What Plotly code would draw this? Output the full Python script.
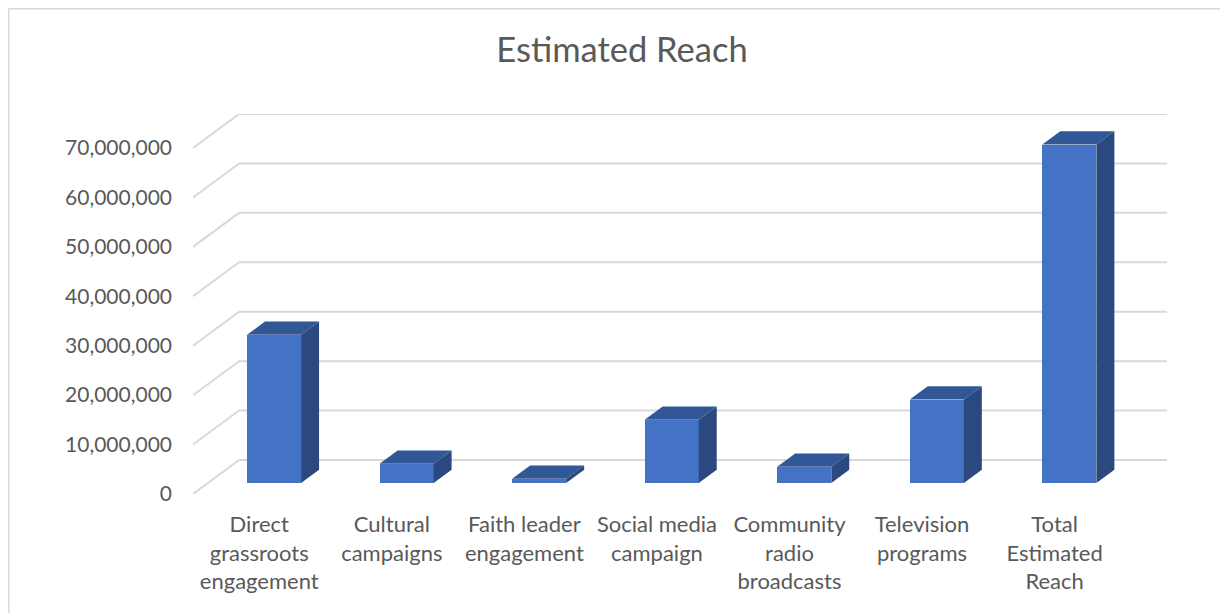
import plotly.graph_objects as go

categories = ["Direct<br>grassroots<br>engagement", "Cultural<br>campaigns", "Faith leader<br>engagement",
              "Social media<br>campaign", "Community<br>radio<br>broadcasts", "Television<br>programs",
              "Total<br>Estimated<br>Reach"]
values = [30000000, 3900000, 900000, 12800000, 3300000, 16900000, 68500000]
y_ticks = [0, 10000000, 20000000, 30000000, 40000000, 50000000, 60000000, 70000000]
y_tick_text = ["0", "10,000,000", "20,000,000", "30,000,000", "40,000,000", "50,000,000", "60,000,000", "70,000,000"]

# oblique 3D projection parameters (full floor depth in data units)
DX = 0.348          # category units
DY = 6880000        # value units
D0, D1 = 0.32, 0.71  # bar depth range (fraction of floor depth)
BW = 0.408          # bar width in category units

FRONT = "#4472C4"
TOP = "#325796"
SIDE = "#2b497f"
GRID = "#d9d9d9"
TXT = "#595959"
FONT = "Lato, 'Open Sans', sans-serif"

n = len(categories)
xmin, xmax = -0.5, n - 0.5
fig = go.Figure()

shapes = []
# gridlines: diagonal on the left wall then along the back wall (drawn below the bars)
for v in y_ticks:
    shapes.append(dict(type="path", xref="x", yref="y", layer="below",
                       path=f"M {xmin},{v} L {xmin + DX},{v + DY} L {xmax + DX},{v + DY}",
                       line=dict(color=GRID, width=2)))

# front faces
xf = [i + DX * D0 for i in range(n)]
fig.add_trace(go.Bar(x=xf, y=values, base=[DY * D0] * n, width=BW,
                     marker=dict(color=FRONT, line=dict(width=0)), showlegend=False))

ddx = DX * (D1 - D0)
ddy = DY * (D1 - D0)
for i, v in enumerate(values):
    xl = xf[i] - BW / 2
    xr = xf[i] + BW / 2
    b = DY * D0
    t = b + v
    # top face
    fig.add_trace(go.Scatter(x=[xl, xr, xr + ddx, xl + ddx, xl], y=[t, t, t + ddy, t + ddy, t],
                             fill="toself", fillcolor=TOP, mode="lines", line=dict(width=0, color=TOP),
                             hoverinfo="skip", showlegend=False))
    # side face
    fig.add_trace(go.Scatter(x=[xr, xr, xr + ddx, xr + ddx, xr], y=[b, t, t + ddy, b + ddy, b],
                             fill="toself", fillcolor=SIDE, mode="lines", line=dict(width=0, color=SIDE),
                             hoverinfo="skip", showlegend=False))

# page body has an 8px margin: lay out in a 1220x605 figure
W, H = 1220, 605
L, T = 185, 106
R = W - 1159
B = H - 486
pw = W - L - R
ph = H - T - B

# chart border: only the left and top edges fall inside the window
shapes.append(dict(type="line", xref="paper", yref="paper", layer="below",
                   x0=(0.5 - L) / pw, x1=(0.5 - L) / pw, y0=-(H + 10 - (H - B)) / ph, y1=1 + (T - 0.5) / ph,
                   line=dict(color=GRID, width=2)))
shapes.append(dict(type="line", xref="paper", yref="paper", layer="below",
                   x0=(0.5 - L) / pw, x1=(W + 10 - L) / pw, y0=1 + (T - 0.5) / ph, y1=1 + (T - 0.5) / ph,
                   line=dict(color=GRID, width=2)))

fig.update_layout(
    width=W, height=H,
    margin=dict(l=L, r=R, t=T, b=B),
    paper_bgcolor="white", plot_bgcolor="white",
    bargap=0,
    title=dict(text="Estimated Reach", x=614 / W, xanchor="center",
               y=1 - 42 / H, yanchor="middle",
               font=dict(family=FONT, size=34.5, color=TXT)),
    xaxis=dict(range=[xmin, xmax + DX], tickmode="array", tickvals=list(range(n)), ticktext=categories,
               showgrid=False, zeroline=False, showline=False, ticks="", tickangle=0,
               ticklabelstandoff=15, tickfont=dict(family=FONT, size=22, color=TXT), fixedrange=True),
    yaxis=dict(range=[0, 70000000 + DY], tickmode="array", tickvals=y_ticks, ticktext=y_tick_text,
               showgrid=False, zeroline=False, showline=False, ticks="",
               ticklabelstandoff=20, tickfont=dict(family=FONT, size=21, color=TXT), fixedrange=True),
    shapes=shapes,
)

fig.write_html("out.html")
